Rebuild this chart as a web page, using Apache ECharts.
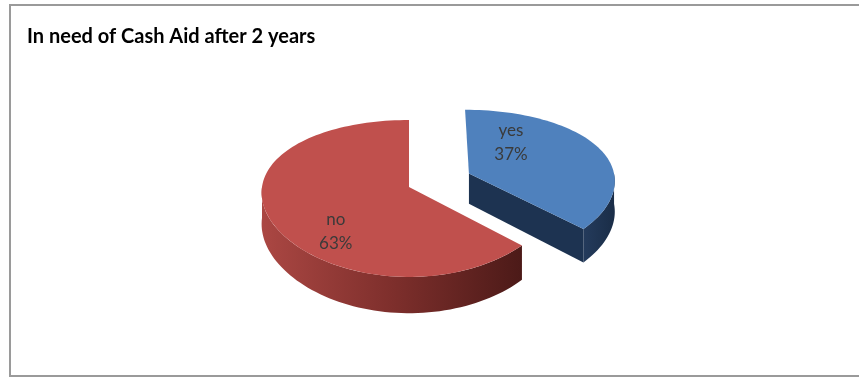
<!DOCTYPE html>
<html>
<head>
<meta charset="utf-8">
<script src="https://cdn.jsdelivr.net/npm/echarts@6/dist/echarts.min.js"></script>
<style>html,body{margin:0;padding:0;background:#fff;}#c{width:859px;height:377px;}</style>
</head>
<body>
<div id="c"></div>
<script>
// ---- data ----
const titleText = 'In need of Cash Aid after 2 years';
const categories = ['yes', 'no'];
const values = [37, 63];
const percentLabels = ['37%', '63%'];

// ---- styles / geometry (not data) ----
const topColors = ['#4F81BD', '#C0504D'];
const wallStops = [
  [[0, '#243b5c'], [1, '#1a2d47']],
  [[0, '#ab4743'], [0.5, '#7e2f2c'], [1, '#4c1a18']]
];
const cutColors = ['#1d3351', '#5a201e'];
const explode = [0.45, 0];
const labelTurn = [32, 25];          // degrees
const labelRadius = [0.55, 0.72];
const CX = 409, CY = 187, RX = 147, RY = 76.8, K = 0.146, H = 31;

function proj(x, z, h) {
  const f = 1 / (1 + K * z);
  return [CX + RX * x * Math.sqrt(f), CY - RY * z * f + h * f];
}
const total = values.reduce((a, b) => a + b, 0);
const spans = [];
(function () {
  let start = 90;
  for (let i = 0; i < values.length; i++) {
    const a2 = start, a1 = start - values[i] / total * 360;
    spans.push([a1, a2]);
    start = a1;
  }
})();
const rad = d => d * Math.PI / 180;

function renderItem(params, api) {
  const i = params.dataIndex;
  const [a1, a2] = spans[i];
  const mid = (a1 + a2) / 2;
  const ox = explode[i] * Math.cos(rad(mid)), oz = explode[i] * Math.sin(rad(mid));
  const children = [];
  // outer walls (front half: sin < 0)
  for (let k = -2; k <= 2; k++) {
    const lo = Math.max(a1, -180 + 360 * k), hi = Math.min(a2, 360 * k);
    if (hi - lo > 0.01) {
      const top = [], bot = [];
      const n = Math.max(4, Math.ceil((hi - lo) / 2));
      for (let s = 0; s <= n; s++) {
        const t = rad(lo + (hi - lo) * s / n);
        top.push(proj(ox + Math.cos(t), oz + Math.sin(t), 0));
        bot.push(proj(ox + Math.cos(t), oz + Math.sin(t), H));
      }
      const pts = top.concat(bot.reverse());
      const xs = pts.map(p => p[0]);
      const minX = Math.min(...xs), maxX = Math.max(...xs);
      children.push({
        type: 'polygon', shape: { points: pts },
        style: {
          fill: {
            type: 'linear', x: minX, y: 0, x2: maxX, y2: 0, global: true,
            colorStops: wallStops[i].map(s => ({ offset: s[0], color: s[1] }))
          }
        }
      });
    }
  }
  // cut faces
  const cutFace = (a) => {
    const t = rad(a);
    const c0 = proj(ox, oz, 0), c1 = proj(ox + Math.cos(t), oz + Math.sin(t), 0);
    const c2 = proj(ox + Math.cos(t), oz + Math.sin(t), H), c3 = proj(ox, oz, H);
    children.push({ type: 'polygon', shape: { points: [c0, c1, c2, c3] }, style: { fill: cutColors[i] } });
  };
  if (Math.cos(rad(a1)) > 0.001) cutFace(a1);
  if (Math.cos(rad(a2)) < -0.001) cutFace(a2);
  // top face
  const tp = [proj(ox, oz, 0)];
  const n = Math.ceil((a2 - a1) / 2);
  for (let s = 0; s <= n; s++) {
    const t = rad(a1 + (a2 - a1) * s / n);
    tp.push(proj(ox + Math.cos(t), oz + Math.sin(t), 0));
  }
  children.push({ type: 'polygon', shape: { points: tp }, style: { fill: topColors[i] } });
  // label
  const la = rad(mid + labelTurn[i]), lr = labelRadius[i];
  const lp = proj(ox + lr * Math.cos(la), oz + lr * Math.sin(la), 0);
  children.push({
    type: 'text', z2: 10,
    style: {
      text: categories[i] + '\n' + percentLabels[i], x: lp[0], y: lp[1],
      align: 'center', verticalAlign: 'middle',
      fontFamily: 'Lato', fontSize: 17, lineHeight: 24, fill: '#3a3a3a'
    }
  });
  return { type: 'group', children };
}

const chart = echarts.init(document.getElementById('c'), null, { renderer: 'canvas' });
chart.setOption({
  animation: false,
  backgroundColor: '#ffffff',
  title: {
    text: titleText, left: 27, top: 27, padding: 0,
    textStyle: { fontFamily: 'Lato', fontWeight: 'bold', fontSize: 20, color: '#000' }
  },
  graphic: [{
    type: 'rect', shape: { x: 10, y: 5, width: 870, height: 371 },
    style: { fill: 'none', stroke: '#9a9a9a', lineWidth: 2 }, z: -1
  }],
  series: [{
    type: 'custom',
    coordinateSystem: 'none',
    renderItem: renderItem,
    data: values.map((v, i) => ({ name: categories[i], value: [v] }))
  }]
});
</script>
</body>
</html>
